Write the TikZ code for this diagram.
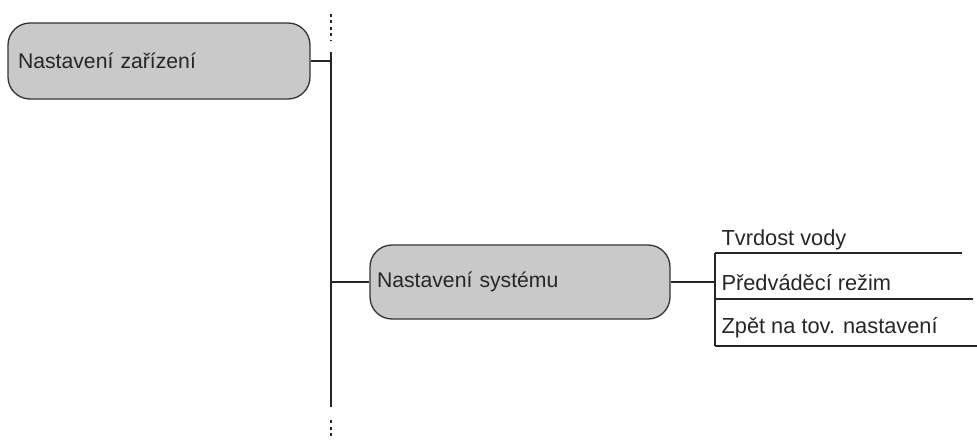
\documentclass[tikz,border=0pt]{standalone}
\usepackage{fontspec}
\setmainfont{Liberation Sans}
\begin{document}
\begin{tikzpicture}[x=1pt,y=-1pt,
  line width=1.1pt,
  linecol/.style={draw=black!85},
  menubox/.style={draw=black!80, line width=1.3pt, fill=black!21, rounded corners=22pt,
    align=left, font=\fontsize{21.2}{25}\selectfont, text=black!85},
  itemtext/.style={font=\fontsize{21.8}{25}\selectfont, text=black!85, anchor=base west, inner sep=0pt}]
\useasboundingbox (0,0) rectangle (977,441);
% boxes
\node[menubox, minimum width=302pt, minimum height=76pt, text width=282pt, inner xsep=10pt] (dev) at (159,61) {Nastavení zařízení};
\node[menubox, minimum width=300pt, minimum height=74pt, text width=286pt, inner xsep=7pt] (sys) at (520,282) {Nastavení systému};
% spine
\coordinate (sTop) at (331,52);
\coordinate (sBot) at (331,407);
\coordinate (dTop1) at (331,14);
\coordinate (dTop2) at (331,41);
\coordinate (dBot1) at (331,420);
\coordinate (dBot2) at (331,438);
\coordinate (jDev) at (331,61);
\coordinate (jSys) at (331,282);
\draw[linecol] (sTop) -- (sBot);
\draw[linecol, dash pattern=on 3pt off 3.5pt] (dTop1) -- (dTop2);
\draw[linecol, dash pattern=on 3pt off 3.5pt] (dBot1) -- (dBot2);
\draw[linecol] (dev.east) -- (jDev);
\draw[linecol] (jSys) -- (sys.west);
% right bracket
\coordinate (bTop) at (715,253);
\coordinate (bMid) at (715,299);
\coordinate (bBot) at (715,346);
\coordinate (bJ) at (715,282);
\coordinate (eTop) at (962,253);
\coordinate (eMid) at (973,299);
\coordinate (eBot) at (977,346);
\draw[linecol] (sys.east) -- (bJ);
\draw[linecol] (bTop) -- (bBot);
\draw[linecol] (bTop) -- (eTop);
\draw[linecol] (bMid) -- (eMid);
\draw[linecol] (bBot) -- (eBot);
\node[itemtext] (t1) at (721,245) {Tvrdost vody};
\node[itemtext] (t2) at (721,290) {Předváděcí režim};
\node[itemtext] (t3) at (721,333) {Zpět na tov. nastavení};
\end{tikzpicture}
\end{document}
